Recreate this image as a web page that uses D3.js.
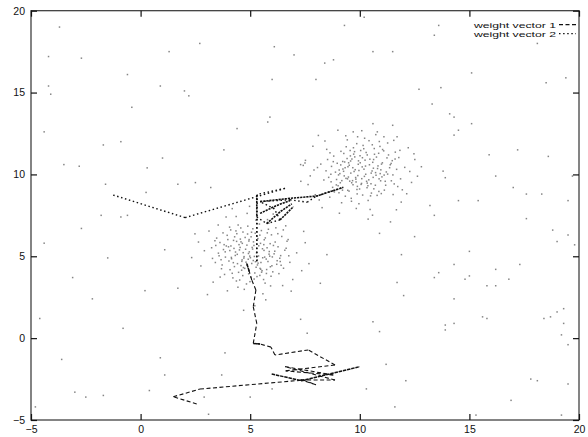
<!DOCTYPE html>
<html>
<head>
<meta charset="utf-8">
<script src="https://cdn.jsdelivr.net/npm/d3@7"></script>
<style>
  body { margin: 0; background: #fff; }
  svg { display: block; }
  text { font-family: "Liberation Sans", Arial, sans-serif; fill: #111; }
</style>
</head>
<body>
<script>
// axis ticks
const xTicks = [-5, 0, 5, 10, 15, 20];
const yTicks = [-5, 0, 5, 10, 15, 20];
const legendLabels = ["weight vector 1", "weight vector 2"];

// scattered background samples
const noise = [
  [-3.7,19.0],[-4.2,17.2],[-2.7,17.1],[2.7,18.0],[1.3,17.5],[6.1,17.8],[7.0,17.3],[-0.6,16.1],[6.0,15.8],[-4.2,15.4],
  [-4.1,14.9],[0.9,15.4],[2.0,15.1],[2.2,14.8],[-0.4,14.1],[5.9,13.5],[5.8,13.2],[4.4,12.8],[-4.4,12.6],[-0.9,12.0],
  [-1.7,11.8],[3.8,11.5],[1.0,11.0],[-3.5,10.6],[-2.8,10.5],[0.3,10.4],[7.5,10.7],[7.3,10.6],[10.2,19.6],[9.3,19.1],
  [13.6,19.1],[13.4,18.5],[18.1,18.0],[10.6,17.5],[11.5,17.5],[8.8,17.0],[8.4,16.8],[15.1,16.2],[19.4,15.9],[18.5,15.6],
  [8.0,15.8],[12.7,15.2],[13.7,15.3],[13.3,14.3],[14.1,13.7],[14.3,13.5],[15.1,13.1],[10.6,13.1],[11.5,13.0],[9.0,12.7],
  [10.8,12.6],[9.7,12.6],[14.5,12.7],[14.3,12.4],[9.9,12.3],[11.1,12.3],[11.7,12.3],[15.9,11.2],[17.2,11.5],[18.6,11.1],
  [13.8,10.2],[13.9,9.8],[16.2,9.9],[19.7,9.9],[17.0,9.2],[17.6,8.8],[18.3,8.8],[14.5,8.4],[15.4,8.4],[19.5,8.4],
  [13.2,8.1],[13.4,7.5],[17.6,7.3],[18.8,6.6],[10.9,6.4],[11.4,7.1],[12.5,6.2],[19.5,6.3],[19.0,5.9],[19.8,5.7],
  [15.0,5.3],[11.9,5.1],[14.3,4.5],[17.3,4.5],[16.2,4.2],[15.0,3.8],[13.6,4.0],[13.4,3.7],[14.8,3.6],[16.8,3.6],
  [11.7,3.4],[15.8,3.2],[16.2,3.2],[12.0,2.6],[14.3,2.4],[19.3,1.8],[19.0,1.6],[15.6,1.3],[15.8,1.2],[18.7,1.3],
  [18.4,1.2],[19.3,0.9],[10.6,1.0],[13.9,0.8],[14.3,0.9],[13.9,0.5],[10.9,0.4],[19.2,0.2],[19.5,-0.4],[11.2,-1.6],
  [12.1,-2.6],[17.8,-2.5],[18.1,-2.6],[19.5,-2.8],[16.9,-3.8],[11.6,-4.2],[15.3,-4.7],[19.2,-4.7],[-3.0,-3.3],[-2.5,-3.6],
  [-1.7,-3.5],[0.4,-3.2],[-4.8,-4.2],[2.9,-3.6],[5.0,-3.6],[3.1,-4.65],[10.3,-3.1],[1.1,5.4],[0.9,-1.2],[1.1,-2.25],
  [3.7,-2.25],[3.85,-0.9],[1.7,3.05],[4.7,1.7],[7.3,1.15],[8.5,5.1],[8.2,3.35],[7.6,0.3],[6.0,-3.1],[-1.6,9.4],
  [1.7,9.4],[2.5,9.5],[3.2,9.2],[0.25,8.9],[-1.8,7.5],[-0.6,7.5],[-0.9,7.4],[-2.7,6.7],[3.9,7.4],[-4.4,5.8],
  [-3.1,3.7],[-4.6,1.2],[-2.2,2.4],[-0.8,0.6],[-3.6,-1.3],[-1.5,4.9],[0.2,2.9]
];

// samples around (5,5)
const cluster1 = [
  [4.12,5.63],[5.48,4.21],[3.87,4.95],[5.91,5.77],[4.66,3.82],[5.23,6.41],[6.35,4.88],[4.41,5.12],[5.07,4.56],[3.62,5.84],
  [5.74,3.95],[4.95,6.02],[6.12,5.31],[4.28,4.37],[5.56,5.46],[3.95,6.28],[6.68,5.92],[4.83,3.31],[5.32,4.79],[4.57,6.73],
  [5.99,4.42],[3.41,4.62],[5.15,5.88],[6.44,6.21],[4.72,4.98],[5.61,3.58],[3.78,5.41],[4.96,5.27],[6.03,4.05],[4.35,6.55],
  [5.42,6.97],[4.18,3.96],[6.81,4.63],[5.03,3.72],[3.55,5.19],[5.86,5.13],[4.49,5.71],[5.27,4.33],[6.27,5.58],[4.03,4.71],
  [4.88,6.36],[5.69,6.12],[3.24,5.52],[6.52,4.27],[4.61,4.15],[5.38,5.02],[4.24,5.97],[5.81,4.68],[4.79,5.43],[5.12,6.68],
  [3.69,4.24],[6.17,6.74],[4.52,3.55],[5.47,5.79],[4.07,5.35],[5.95,3.78],[4.91,4.82],[6.39,5.04],[3.98,6.02],[5.21,3.98],
  [4.45,6.91],[5.66,4.95],[3.83,3.89],[6.06,5.66],[4.68,5.22],[5.33,4.47],[4.15,4.85],[5.78,6.43],[4.99,3.45],[6.58,5.37],
  [3.47,6.11],[5.09,5.54],[4.32,5.05],[5.54,4.12],[4.77,6.15],[6.21,4.51],[3.91,5.63],[5.44,6.29],[4.58,4.43],[5.87,5.29],
  [4.21,3.68],[6.73,6.02],[5.01,4.91],[3.72,4.47],[5.62,5.71],[4.39,6.38],[5.18,3.61],[6.09,5.15],[4.85,5.68],[3.58,5.03],
  [5.36,4.58],[4.62,4.69],[6.31,3.94],[4.11,6.61],[5.73,4.83],[4.94,5.93],[3.86,5.27],[5.51,6.57],[4.47,4.02],[6.01,4.96],
  [5.26,7.21],[4.73,2.98],[2.91,5.34],[7.12,5.21],[5.58,2.71],[4.36,7.43],[7.35,4.12],[2.75,4.41],[6.62,6.86],[3.31,3.42],
  [5.85,7.02],[3.96,2.89],[6.94,3.58],[3.12,6.54],[4.86,7.62],[5.71,2.34],[7.51,5.83],[2.64,5.87],[6.48,3.21],[3.54,6.91],
  [4.51,5.39],[5.14,4.74],[4.69,4.31],[5.39,5.64],[4.26,5.48],[5.92,4.36],[4.98,5.01],[5.29,5.21],[4.81,4.64],[5.63,5.36],
  [4.14,4.93],[5.44,3.83],[4.55,6.05],[6.23,4.73],[3.81,5.71],[5.06,6.47],[4.42,4.55],[5.77,5.52],[4.93,3.93],[6.14,5.87],
  [5.52,4.03],[4.29,6.19],[5.97,6.31],[3.67,4.79],[5.19,4.99],[4.64,5.79],[6.41,4.45],[4.08,4.18],[5.35,6.08],[4.75,4.26],
  [3.39,5.95],[6.64,5.49],[4.89,6.84],[5.68,3.36],[4.01,5.58],[5.83,6.65],[4.37,3.49],[6.26,6.38],[3.76,6.43],[5.45,4.26],
  [4.54,5.54],[5.11,5.44],[4.71,4.89],[5.24,4.67],[4.92,5.17],[5.57,4.91],[4.33,5.26],[5.04,6.19],[4.63,4.78],[5.89,5.01],
  [2.33,4.92],[7.68,4.55],[4.97,8.05],[5.21,1.98],[2.48,6.37],[7.44,6.52],[3.05,2.66],[6.87,2.87],[4.18,7.91],[6.05,7.58],
  [3.28,4.87],[6.76,5.03],[4.44,3.11],[5.79,7.24],[3.63,3.73],[6.51,6.61],[4.06,6.78],[5.93,3.19],[3.43,5.66],[6.37,4.68],
  [4.58,5.88],[5.31,3.76],[4.23,4.61],[5.64,6.01],[4.87,4.47],[5.17,5.66],[4.67,6.48],[5.49,4.62],[4.38,5.91],[5.75,4.19]
];

// samples around (10,10)
const cluster2 = [
  [10.34,9.47],[9.58,10.82],[11.21,10.15],[8.93,9.36],[10.76,11.06],[9.82,9.71],[11.57,9.42],[9.27,11.28],[10.13,8.74],[8.71,10.49],
  [10.62,10.38],[9.45,9.03],[11.04,11.52],[9.96,10.24],[10.87,8.96],[8.58,9.82],[9.71,11.63],[11.43,10.67],[10.21,9.88],[9.09,10.05],
  [10.95,9.61],[9.34,8.67],[10.46,10.93],[8.81,11.12],[11.68,10.31],[9.89,9.27],[10.57,11.81],[9.52,10.56],[11.12,9.04],[8.46,10.22],
  [10.02,10.71],[9.63,9.49],[11.31,11.19],[9.18,9.62],[10.71,9.34],[9.77,11.07],[10.38,8.41],[8.97,10.68],[11.86,9.73],[10.11,10.46],
  [9.42,10.97],[10.83,10.52],[9.05,8.88],[11.48,10.84],[9.91,9.93],[10.29,11.34],[8.69,9.55],[11.01,9.85],[9.56,11.46],[10.64,9.12],
  [9.23,10.33],[10.92,11.71],[8.84,8.93],[11.27,10.02],[10.06,9.39],[9.68,10.41],[11.62,11.36],[9.37,9.76],[10.52,10.08],[8.53,10.91],
  [10.79,8.72],[9.86,11.88],[11.16,9.58],[9.14,11.41],[10.41,9.67],[9.61,8.54],[11.39,10.59],[8.89,10.14],[10.24,10.87],[9.99,9.11],
  [11.73,9.26],[9.31,10.76],[10.67,11.23],[8.76,9.21],[10.96,10.28],[9.48,9.84],[10.18,11.57],[9.03,9.97],[11.24,11.01],[10.53,8.86],
  [9.74,10.18],[10.88,9.73],[8.64,11.32],[11.51,9.97],[9.93,10.62],[10.33,9.19],[9.21,9.04],[11.09,11.44],[10.01,11.14],[9.54,9.59],
  [12.05,10.43],[7.91,10.27],[10.22,12.21],[9.84,7.92],[12.21,11.63],[8.15,8.44],[11.89,8.31],[7.86,11.72],[10.73,12.43],[9.07,7.63],
  [12.36,9.51],[7.64,9.38],[11.55,12.08],[8.41,12.04],[12.14,8.82],[8.28,7.97],[10.58,7.51],[9.36,12.36],[12.51,10.91],[7.52,10.86],
  [10.27,10.01],[9.79,10.29],[10.61,9.82],[9.46,10.47],[10.44,10.59],[9.67,9.62],[10.09,9.74],[9.94,10.83],[10.72,10.11],[9.29,9.91],
  [10.86,11.29],[9.13,10.58],[11.18,9.34],[9.72,11.24],[10.37,9.31],[8.94,9.69],[11.36,10.41],[9.51,8.98],[10.04,11.46],[10.98,8.83],
  [8.68,10.01],[11.61,10.94],[9.38,11.69],[10.49,8.69],[9.01,9.31],[11.03,10.71],[9.88,8.81],[10.66,11.58],[8.79,10.78],[11.44,9.61],
  [9.59,10.08],[10.19,10.32],[9.83,9.54],[10.56,10.21],[9.64,10.94],[10.31,9.58],[9.26,10.19],[10.81,10.36],[10.08,9.45],[9.49,10.71],
  [11.78,11.03],[8.36,9.66],[10.42,12.06],[9.96,8.21],[11.94,9.06],[8.22,10.63],[11.27,11.92],[8.63,8.61],[12.28,10.18],[7.74,9.91],
  [10.15,11.77],[9.62,8.36],[11.52,8.77],[8.49,11.53],[10.89,12.01],[9.17,8.27],[11.83,11.47],[8.07,10.42],[10.47,7.86],[9.43,12.11],
  [10.26,10.51],[9.69,9.37],[10.74,9.95],[9.33,10.41],[10.12,11.02],[9.81,9.81],[10.59,10.74],[9.11,9.49],[10.93,10.05],[9.57,11.13],
  [12.63,9.89],[7.42,10.55],[10.09,12.67],[10.38,7.27],[12.47,11.26],[7.97,8.76],[11.67,7.84],[8.11,12.38],[12.81,10.47],[7.31,9.58],
  [10.63,10.91],[9.44,9.73],[10.99,10.63],[9.22,10.79],[10.51,9.43],[9.76,11.39],[11.11,9.96],[9.06,10.27],[10.34,11.19],[9.87,9.08]
];

// weight vector 1 trajectory (dashed)
const wv1 = [
  [2.56,-4.02],[1.49,-3.58],[2.71,-3.11],[7.42,-2.56],[8.0,-2.85],[7.3,-2.55],[8.87,-2.56],[6.59,-1.74],
  [8.79,-2.25],[6.62,-2.0],[8.87,-1.64],[7.65,-0.72],[6.13,-1.03],[5.95,-0.55],[5.45,-0.36],[5.14,-0.32],
  [5.3,0.9],[5.14,1.92],[5.26,2.94],[5.07,3.55],[4.96,4.06],[4.84,4.57]
];
// stretches where vector 1 moved in many tiny steps
const wv1Dense = [
  [[5.98,-2.19],[7.35,-2.6],[10.0,-1.74]],
  [[5.14,-0.32],[5.45,-0.36]],
  [[4.96,4.06],[4.84,4.57]]
];

// weight vector 2 trajectory (dotted)
const wv2 = [
  [-1.25,8.74],[2.03,7.36],[6.59,9.15],[5.32,8.78],[5.3,4.7],[5.3,7.4],[5.75,7.0],[6.36,7.22],
  [6.1,7.9],[5.45,8.34],[6.82,8.45],[7.6,8.3],[8.03,8.68],[9.25,9.21]
];
const wv2Dense = [
  [[5.3,8.75],[5.3,7.4]],
  [[5.45,8.34],[6.82,8.54],[8.03,8.68],[9.25,9.21]],
  [[5.45,7.62],[6.2,8.1],[6.82,8.4]],
  [[5.75,7.0],[6.4,7.75],[6.9,8.2]],
  [[6.36,7.22],[6.97,8.03]]
];

const width = 588, height = 437;
const svg = d3.select("body").append("svg")
    .attr("width", width)
    .attr("height", height);

const x = d3.scaleLinear().domain([-5, 20]).range([31, 579]);
const y = d3.scaleLinear().domain([-5, 20]).range([420, 10.7]);

// sample points
const dots = svg.append("g").attr("fill", "#858585");
dots.selectAll("rect")
    .data(noise.concat(cluster1, cluster2))
    .join("rect")
    .attr("x", d => x(d[0]) - 0.75)
    .attr("y", d => y(d[1]) - 0.75)
    .attr("width", 1.5)
    .attr("height", 1.5);

// draw each segment on its own so the dash pattern restarts at every step
function drawTrack(points, dash, widthPx) {
    svg.append("g").selectAll("line")
        .data(d3.pairs(points))
        .join("line")
        .attr("x1", d => x(d[0][0]))
        .attr("y1", d => y(d[0][1]))
        .attr("x2", d => x(d[1][0]))
        .attr("y2", d => y(d[1][1]))
        .attr("stroke", "#111")
        .attr("stroke-width", widthPx)
        .attr("stroke-dasharray", dash);
}

const line = d3.line().x(d => x(d[0])).y(d => y(d[1]));
function drawDense(parts, dash, widthPx) {
    svg.append("g").selectAll("path")
        .data(parts)
        .join("path")
        .attr("d", line)
        .attr("fill", "none")
        .attr("stroke", "#111")
        .attr("stroke-width", widthPx)
        .attr("stroke-dasharray", dash);
}

drawTrack(wv1, "4,2.5", 1.1);
drawDense(wv1Dense, "3.5,0.8", 1.5);
drawTrack(wv2, "1.5,2.6", 1.4);
drawDense(wv2Dense, "2.2,0.9", 1.6);

// frame
svg.append("rect")
    .attr("x", x(-5)).attr("y", y(20))
    .attr("width", x(20) - x(-5)).attr("height", y(-5) - y(20))
    .attr("fill", "none")
    .attr("stroke", "#333")
    .attr("stroke-width", 1.2);

// axes, ticks mirrored on all sides
const axB = svg.append("g").attr("transform", `translate(0,${y(-5)})`)
    .call(d3.axisBottom(x).tickValues(xTicks).tickSizeInner(-6).tickSizeOuter(0).tickPadding(6));
const axT = svg.append("g").attr("transform", `translate(0,${y(20)})`)
    .call(d3.axisTop(x).tickValues(xTicks).tickSizeInner(-6).tickSizeOuter(0).tickFormat(""));
const axL = svg.append("g").attr("transform", `translate(${x(-5)},0)`)
    .call(d3.axisLeft(y).tickValues(yTicks).tickSizeInner(-6).tickSizeOuter(0).tickPadding(6));
const axR = svg.append("g").attr("transform", `translate(${x(20)},0)`)
    .call(d3.axisRight(y).tickValues(yTicks).tickSizeInner(-6).tickSizeOuter(0).tickFormat(""));

[axB, axT, axL, axR].forEach(g => {
    g.select(".domain").remove();
    g.selectAll(".tick line").attr("stroke", "#111").attr("stroke-width", 1.2);
    g.selectAll("text")
        .attr("fill", "#111")
        .style("font-family", "'Liberation Sans', Arial, sans-serif")
        .style("font-size", "10.5px");
});

// legend
const legend = svg.append("g");
const legendDash = ["4,2.5", "1.5,2.6"];
legendLabels.forEach((label, i) => {
    const ly = 24.6 + i * 9;
    legend.append("text")
        .attr("x", 556).attr("y", ly + 2.9)
        .attr("text-anchor", "end")
        .attr("textLength", 82)
        .attr("lengthAdjust", "spacingAndGlyphs")
        .style("font-size", "7.8px")
        .text(label);
    legend.append("line")
        .attr("x1", 559).attr("x2", 576)
        .attr("y1", ly).attr("y2", ly)
        .attr("stroke", "#111")
        .attr("stroke-width", i ? 1.4 : 1.1)
        .attr("stroke-dasharray", legendDash[i]);
});
</script>
</body>
</html>
